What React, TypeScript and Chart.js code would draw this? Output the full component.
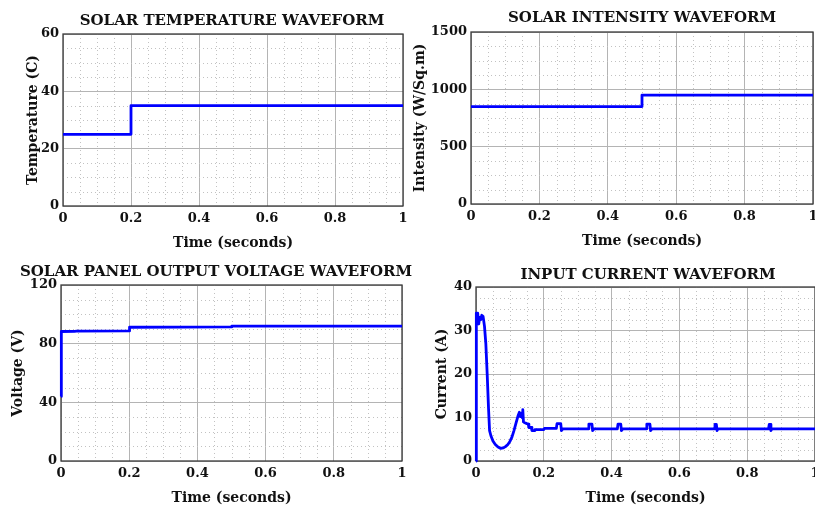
import React, { useEffect, useRef } from "react";
import { Chart, registerables } from "chart.js";

Chart.register(...registerables);

const W = 815;
const H = 509;
const FONT = "'DejaVu Serif', 'Liberation Serif', serif";
const TEXT = "#111111";
const MINOR = 4;

const timeTicks = [0, 0.2, 0.4, 0.6, 0.8, 1];
const timeTickLabels = ["0", "0.2", "0.4", "0.6", "0.8", "1"];

const tempTime = [0, 0.2, 0.2, 1];
const tempValues = [25, 25, 35, 35];
const tempTicks = [0, 20, 40, 60];

const intensityTime = [0, 0.5, 0.5, 1];
const intensityValues = [850, 850, 950, 950];
const intensityTicks = [0, 500, 1000, 1500];

const voltageTime = [0, 0.001, 0.04, 0.045, 0.2, 0.201, 0.5, 0.501, 1];
const voltageValues = [44, 88.3, 88.4, 88.5, 88.7, 91.2, 91.4, 92, 92];
const voltageTicks = [0, 40, 80, 120];

const currentTime = [
  0, 0.001, 0.003, 0.005, 0.008, 0.011, 0.014, 0.017, 0.021, 0.025, 0.029, 0.033,
  0.037, 0.04, 0.044, 0.05, 0.057, 0.065, 0.073, 0.08, 0.087, 0.094, 0.1, 0.106,
  0.112, 0.118, 0.124, 0.128, 0.131, 0.134, 0.136, 0.138, 0.14, 0.144, 0.15, 0.154,
  0.156, 0.163, 0.165, 0.172, 0.174, 0.2, 0.202, 0.237, 0.239, 0.25, 0.252, 0.256,
  0.331, 0.333, 0.342, 0.344, 0.348, 0.417, 0.419, 0.427, 0.429, 0.433, 0.502,
  0.504, 0.513, 0.515, 0.519, 0.703, 0.705, 0.709, 0.711, 0.714, 0.863, 0.865,
  0.868, 0.87, 0.873, 1,
];
const currentValues = [
  0, 34, 32, 34, 31.5, 33, 32.5, 33.5, 33.2, 31, 27, 20,
  12, 7, 5.8, 4.6, 3.8, 3.2, 2.9, 3.0, 3.3, 3.8, 4.5, 5.5,
  7.0, 8.7, 10.4, 11.2, 10.2, 11.0, 10.0, 11.8, 9.0, 8.8, 8.6, 8.5,
  7.7, 7.7, 7.0, 7.0, 7.2, 7.2, 7.5, 7.5, 8.6, 8.6, 7.0, 7.4,
  7.4, 8.5, 8.5, 7.0, 7.4, 7.4, 8.5, 8.5, 7.0, 7.4, 7.4,
  8.5, 8.5, 7.0, 7.4, 7.4, 8.4, 8.4, 7.0, 7.4, 7.4, 8.4,
  8.4, 7.0, 7.4, 7.4,
];
const currentTicks = [0, 10, 20, 30, 40];

type Box = { l: number; t: number; r: number; b: number };
type PanelProps = {
  title: string;
  yLabel: string;
  xs: number[];
  ys: number[];
  yTicks: number[];
  box: Box;
  titleX: number;
  titleY: number;
  yLabelX: number;
  xLabelY: number;
};

function Panel(p: PanelProps) {
  const ref = useRef<HTMLCanvasElement>(null);
  useEffect(() => {
    const canvas = ref.current;
    if (!canvas) return;
    const points = p.xs.map((x, i) => ({ x, y: p.ys[i] }));
    const padLeft = p.yLabelX - 7;
    const padBottom = H - (p.xLabelY + 7);

    const decor = {
      id: "decor",
      beforeDatasetsDraw(chart: any) {
        const { ctx, chartArea: a, scales } = chart;
        ctx.save();
        ctx.strokeStyle = "#c2c2c2";
        ctx.lineWidth = 1;
        ctx.setLineDash([1, 3]);
        const xs = scales.x;
        const ys = scales.y;
        const xt = xs.ticks.map((t: any) => t.value);
        for (let i = 0; i < xt.length - 1; i++) {
          const step = (xt[i + 1] - xt[i]) / MINOR;
          for (let k = 1; k < MINOR; k++) {
            const px = Math.round(xs.getPixelForValue(xt[i] + k * step)) + 0.5;
            if (px > a.right) continue;
            ctx.beginPath();
            ctx.moveTo(px, a.top);
            ctx.lineTo(px, a.bottom);
            ctx.stroke();
          }
        }
        const yt = ys.ticks.map((t: any) => t.value);
        for (let i = 0; i < yt.length - 1; i++) {
          const step = (yt[i + 1] - yt[i]) / MINOR;
          for (let k = 1; k < MINOR; k++) {
            const py = Math.round(ys.getPixelForValue(yt[i] + k * step)) + 0.5;
            ctx.beginPath();
            ctx.moveTo(a.left, py);
            ctx.lineTo(a.right, py);
            ctx.stroke();
          }
        }
        ctx.setLineDash([]);
        ctx.strokeStyle = "#3a3a3a";
        ctx.lineWidth = 1.3;
        ctx.strokeRect(a.left, a.top, a.right - a.left, a.bottom - a.top);
        ctx.restore();
      },
      afterDraw(chart: any) {
        const { ctx } = chart;
        ctx.save();
        ctx.font = `bold 15px ${FONT}`;
        ctx.fillStyle = TEXT;
        ctx.textAlign = "center";
        ctx.textBaseline = "middle";
        ctx.fillText(p.title, p.titleX, p.titleY);
        ctx.restore();
      },
    };

    const tickFont = { family: FONT, size: 13, weight: "bold" as const };
    const labelFont = { family: FONT, size: 14, weight: "bold" as const, lineHeight: 1 };

    const chart = new Chart(canvas, {
      type: "line",
      data: {
        datasets: [
          {
            data: points,
            borderColor: "#0000ff",
            borderWidth: 2.8,
            pointRadius: 0,
            tension: 0,
            fill: false,
            clip: 3,
            borderJoinStyle: "round",
          } as any,
        ],
      },
      options: {
        animation: false,
        responsive: false,
        maintainAspectRatio: false,
        devicePixelRatio: 1,
        events: [],
        layout: {
          padding: { left: padLeft, top: p.box.t, right: W - p.box.r, bottom: padBottom },
        },
        plugins: {
          legend: { display: false },
          tooltip: { enabled: false },
          title: { display: false },
        },
        scales: {
          x: {
            type: "linear",
            min: timeTicks[0],
            max: timeTicks[timeTicks.length - 1],
            afterBuildTicks: (s: any) => {
              s.ticks = timeTicks.map((v) => ({ value: v }));
            },
            afterFit: (s: any) => {
              s.height = p.xLabelY + 7 - p.box.b;
              s.paddingLeft = 0;
              s.paddingRight = 0;
            },
            ticks: {
              autoSkip: false,
              maxRotation: 0,
              padding: 5,
              color: TEXT,
              font: tickFont,
              callback: (v: any) => {
                const i = timeTicks.indexOf(Number(v));
                return i >= 0 ? timeTickLabels[i] : "";
              },
            },
            grid: { color: "#b4b4b4", lineWidth: 1, drawTicks: false },
            border: { display: false },
            title: {
              display: true,
              text: "Time (seconds)",
              color: TEXT,
              font: labelFont,
              padding: 0,
            },
          },
          y: {
            type: "linear",
            min: p.yTicks[0],
            max: p.yTicks[p.yTicks.length - 1],
            afterBuildTicks: (s: any) => {
              s.ticks = p.yTicks.map((v) => ({ value: v }));
            },
            afterFit: (s: any) => {
              s.width = p.box.l - padLeft;
              s.paddingTop = 0;
              s.paddingBottom = 0;
            },
            ticks: {
              autoSkip: false,
              padding: 4,
              color: TEXT,
              font: tickFont,
              callback: (v: any) => String(v),
            },
            grid: { color: "#b4b4b4", lineWidth: 1, drawTicks: false },
            border: { display: false },
            title: {
              display: true,
              text: p.yLabel,
              color: TEXT,
              font: labelFont,
              padding: 0,
            },
          },
        },
      },
      plugins: [decor],
    } as any);
    return () => chart.destroy();
  }, []);
  return (
    <canvas
      ref={ref}
      width={W}
      height={H}
      style={{ position: "absolute", left: 0, top: 0, width: W, height: H }}
    />
  );
}

export default function App() {
  return (
    <div
      style={{
        position: "absolute",
        left: 0,
        top: 0,
        width: W,
        height: H,
        background: "#ffffff",
        overflow: "hidden",
      }}
    >
      <Panel
        title="SOLAR TEMPERATURE WAVEFORM"
        yLabel="Temperature (C)"
        xs={tempTime}
        ys={tempValues}
        yTicks={tempTicks}
        box={{ l: 63, t: 34, r: 403, b: 206 }}
        titleX={232}
        titleY={21}
        yLabelX={33}
        xLabelY={243}
      />
      <Panel
        title="SOLAR INTENSITY WAVEFORM"
        yLabel="Intensity (W/Sq.m)"
        xs={intensityTime}
        ys={intensityValues}
        yTicks={intensityTicks}
        box={{ l: 471, t: 32, r: 813, b: 204 }}
        titleX={642}
        titleY={18}
        yLabelX={420}
        xLabelY={241}
      />
      <Panel
        title="SOLAR PANEL OUTPUT VOLTAGE WAVEFORM"
        yLabel="Voltage (V)"
        xs={voltageTime}
        ys={voltageValues}
        yTicks={voltageTicks}
        box={{ l: 61, t: 285, r: 402, b: 461 }}
        titleX={216}
        titleY={272}
        yLabelX={18}
        xLabelY={498}
      />
      <Panel
        title="INPUT CURRENT WAVEFORM"
        yLabel="Current (A)"
        xs={currentTime}
        ys={currentValues}
        yTicks={currentTicks}
        box={{ l: 476, t: 287, r: 816, b: 461 }}
        titleX={648}
        titleY={275}
        yLabelX={442}
        xLabelY={498}
      />
    </div>
  );
}
